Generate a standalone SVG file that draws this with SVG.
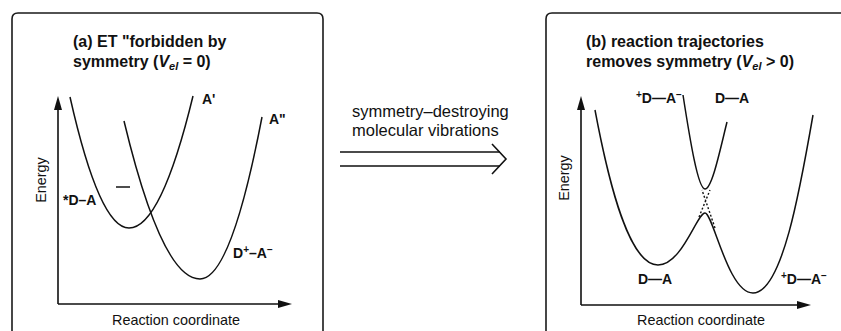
<svg xmlns="http://www.w3.org/2000/svg" width="841" height="331" viewBox="0 0 841 331">
<style>
  .frame{fill:none;stroke:#1a1a1a;stroke-width:1.6}
  .axis{fill:none;stroke:#111;stroke-width:1.6}
  .curve{fill:none;stroke:#111;stroke-width:1.5}
  .dots{fill:none;stroke:#111;stroke-width:1.4;stroke-dasharray:2 2}
  .title{font-family:"Liberation Sans",Arial,sans-serif;font-weight:bold;font-size:16px;fill:#111}
  .lab{font-family:"Liberation Sans",Arial,sans-serif;font-weight:bold;font-size:14px;fill:#111}
  .txt{font-family:"Liberation Sans",Arial,sans-serif;font-size:14.4px;fill:#111}
  .big{font-family:"Liberation Sans",Arial,sans-serif;font-size:16.5px;fill:#111}
  .head{fill:#111}
</style>
<rect width="841" height="331" fill="#fff"/>

<g id="panel-a">
  <path class="frame" d="M12,331 V19 Q12,13 18,13 H317 Q323,13 323,19 V331"/>
  <text class="title" x="73" y="47">(a) ET "forbidden by</text>
  <text class="title" x="73" y="67">symmetry (<tspan font-style="italic">V</tspan><tspan font-style="italic" font-size="11" dy="3">el</tspan><tspan dy="-3"> = 0)</tspan></text>
  <g id="axes-a">
    <path class="axis" d="M58,304 V106 M58,304 H281"/>
    <path class="head" d="M58,96 L54,110 L62,110 Z"/>
    <path class="head" d="M292,304 L278,300 L278,308 Z"/>
    <text class="txt" transform="translate(46,180) rotate(-90)" text-anchor="middle">Energy</text>
    <text class="txt" x="176" y="325" text-anchor="middle">Reaction coordinate</text>
  </g>
  <g id="curve-DA-a">
    <path class="curve" d="M70,97 Q99.5,228 129,228 Q161,228 193,96"/>
    <text class="lab" x="202" y="104">A'</text>
    <text class="lab" x="63" y="205">*D–A</text>
  </g>
  <g id="curve-DpAm-a">
    <path class="curve" d="M124,121 Q162,279 200,279 Q231,279 262,117"/>
    <text class="lab" x="269" y="124">A"</text>
    <text class="lab" x="233" y="258">D<tspan font-size="10" dy="-5">+</tspan><tspan dy="5">–A</tspan><tspan font-size="10" dy="-5">−</tspan></text>
  </g>
  <path d="M116,187 H130" stroke="#222" stroke-width="1.6"/>
</g>

<g id="transition">
  <text class="big" x="352" y="117">symmetry–destroying</text>
  <text class="big" x="352" y="136">molecular vibrations</text>
  <g id="double-arrow">
    <path class="axis" d="M340,152 H500 M340,166 H500"/>
    <path class="axis" d="M492,144 L506,159 L492,174" stroke-width="1.3"/>
  </g>
</g>

<g id="panel-b">
  <path class="frame" d="M546,331 V19 Q546,13 552,13 H841"/>
  <text class="title" x="586" y="47">(b) reaction trajectories</text>
  <text class="title" x="586" y="67">removes symmetry (<tspan font-style="italic">V</tspan><tspan font-style="italic" font-size="11" dy="3">el</tspan><tspan dy="-3"> &gt; 0)</tspan></text>
  <g id="axes-b">
    <path class="axis" d="M581,305 V106 M581,305 H800"/>
    <path class="head" d="M581,96 L577,110 L585,110 Z"/>
    <path class="head" d="M811,305 L797,301 L797,309 Z"/>
    <text class="txt" transform="translate(569,178) rotate(-90)" text-anchor="middle">Energy</text>
    <text class="txt" x="701" y="325" text-anchor="middle">Reaction coordinate</text>
  </g>
  <g id="lower-surface">
    <path class="curve" d="M595,110 C610,190 630,265 658,265 C682,265 697,213 705,213 C713,213 728,293 753,293 C782,293 800,190 813,115"/>
    <text class="lab" x="638" y="284">D—A</text>
    <text class="lab" x="781" y="284"><tspan font-size="10" dy="-5">+</tspan><tspan dy="5">D—A</tspan><tspan font-size="10" dy="-5">−</tspan></text>
  </g>
  <g id="upper-surface">
    <path class="curve" d="M683,95 C690,140 698,189 705,189 C712,189 720,150 727,122"/>
    <text class="lab" x="636" y="103"><tspan font-size="10" dy="-5">+</tspan><tspan dy="5">D—A</tspan><tspan font-size="10" dy="-5">−</tspan></text>
    <text class="lab" x="715" y="103">D—A</text>
  </g>
  <g id="diabatic-crossing">
    <path class="dots" d="M699,217 L710,190 M715,228 L702,190"/>
  </g>
</g>
</svg>
